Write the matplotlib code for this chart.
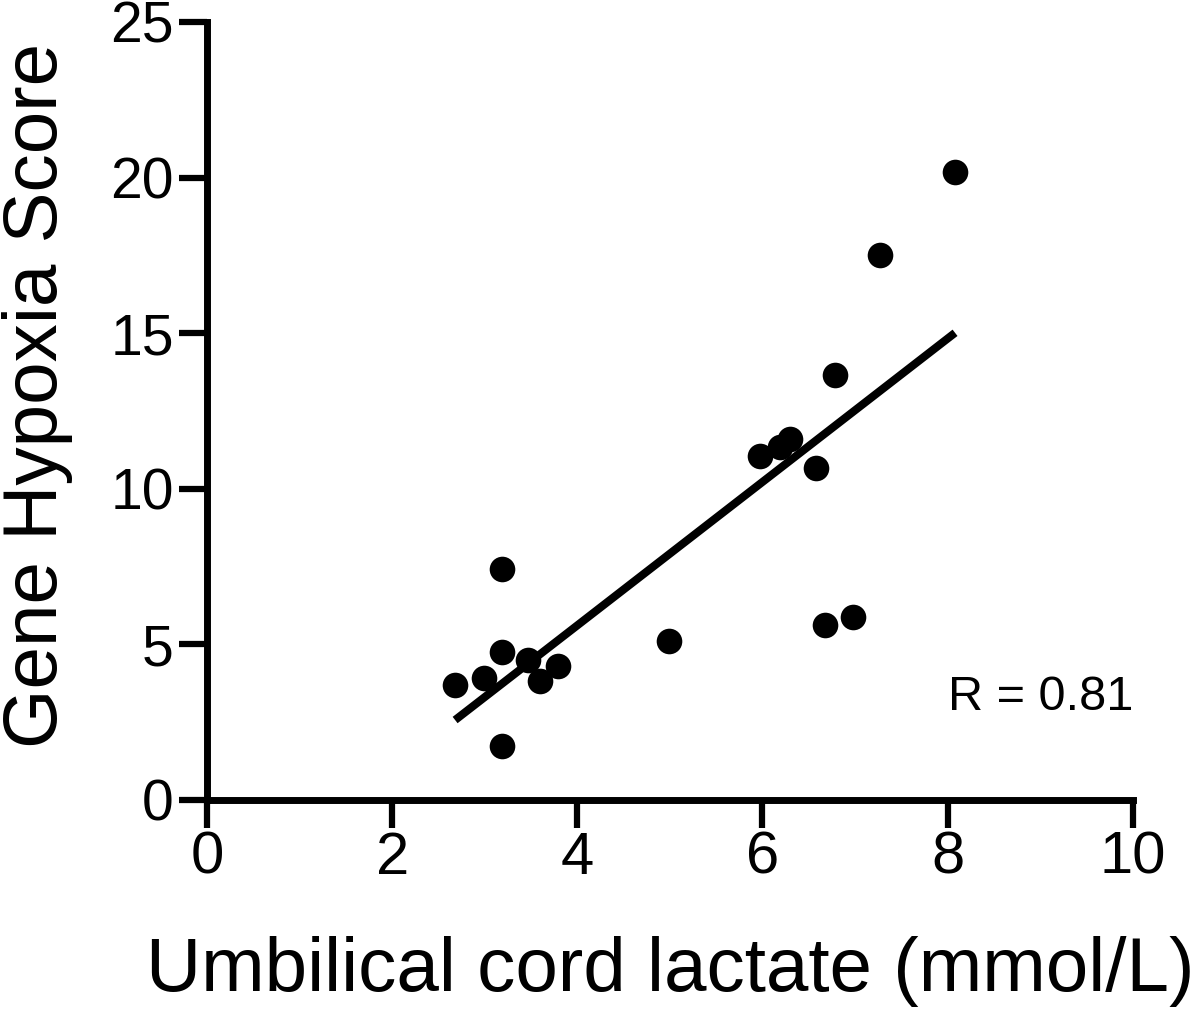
import numpy as np
import matplotlib
matplotlib.use("Agg")
import matplotlib.pyplot as plt

plt.rcParams['font.family'] = ['Liberation Sans', 'DejaVu Sans']

# Data
lactate = [2.68, 2.99, 3.19, 3.19, 3.19, 3.47, 3.60, 3.79, 4.99,
           5.97, 6.19, 6.30, 6.58, 6.78, 6.67, 6.98, 7.27, 8.08]
score = [3.70, 3.92, 7.43, 4.76, 1.74, 4.50, 3.83, 4.31, 5.11,
         11.06, 11.35, 11.60, 10.68, 13.67, 5.63, 5.88, 17.52, 20.19]
x_ticks = [0, 2, 4, 6, 8, 10]
y_ticks = [0, 5, 10, 15, 20, 25]
r_text = "R = 0.81"

fig = plt.figure(figsize=(12, 10.23), dpi=100)
ax = fig.add_axes([0.1725, 0.218, 0.7715, 0.7605])

ax.scatter(lactate, score, s=340, color='black', zorder=3, clip_on=False, linewidths=0)

slope, intercept = np.polyfit(lactate, score, 1)
xs = np.array([min(lactate), max(lactate)])
ax.plot(xs, slope * xs + intercept, color='black', lw=5.8, solid_capstyle='butt', zorder=2)

ax.set_xlim(0, 10)
ax.set_ylim(0, 25)
ax.set_xticks(x_ticks)
ax.set_yticks(y_ticks)
ax.set_xticklabels([str(t) for t in x_ticks], fontsize=43)
ax.set_yticklabels([str(t) for t in y_ticks], fontsize=41)
ax.tick_params(axis='both', width=4.5, length=20, color='black')
ax.tick_params(axis='x', pad=2)
ax.tick_params(axis='y', pad=4)

for s in ['top', 'right']:
    ax.spines[s].set_visible(False)
for s in ['left', 'bottom']:
    ax.spines[s].set_linewidth(5)

ax.set_xlabel("Umbilical cord lactate (mmol/L)", fontsize=55, labelpad=36)
ax.set_ylabel("Gene Hypoxia Score", fontsize=55, va='center')
ax.yaxis.set_label_coords(-0.19, 0.52)
ax.yaxis.label.set_position((-0.19, 0.52))
ax.yaxis.label.set_x(-0.19)

ax.text(8.0, 3.3, r_text, fontsize=35, ha='left', va='center')

# nudge label slightly right to avoid clipping
ax.yaxis.set_label_coords(-0.183, 0.52)

fig.savefig("out.png", dpi=100)
